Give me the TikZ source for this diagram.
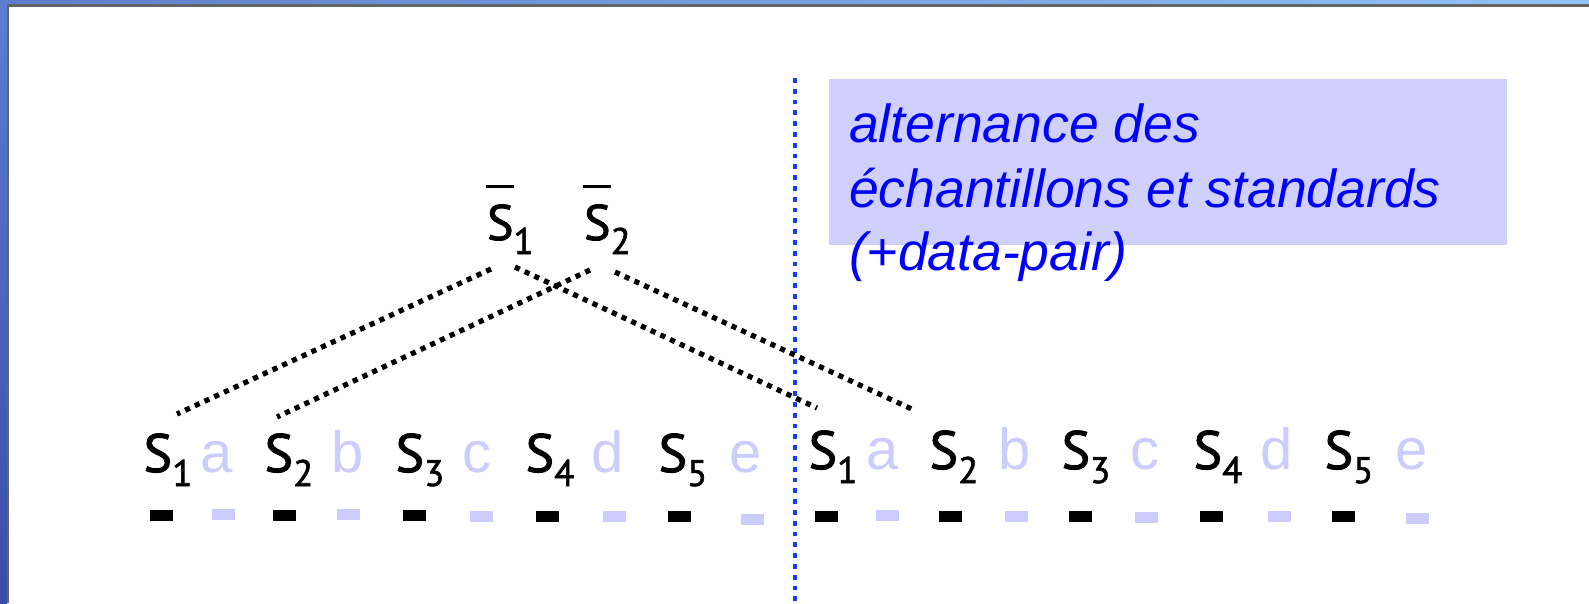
\documentclass[tikz,border=0pt]{standalone}
\usepackage{fontspec}
\setmainfont{Liberation Sans}
\newfontfamily\sfont[FakeBold=1.6]{PT Sans}
\usetikzlibrary{calc}
\definecolor{lav}{RGB}{204,204,255}
\definecolor{boxc}{RGB}{208,208,252}
\definecolor{txtblue}{RGB}{0,0,255}
\definecolor{vblue}{RGB}{16,64,240}
\definecolor{frameA}{RGB}{92,126,204}
\definecolor{frameB}{RGB}{58,76,168}
\definecolor{frameC}{RGB}{146,196,246}
\definecolor{fgray}{RGB}{100,100,100}
\newcommand\Ssub[1]{S\raisebox{-14pt}{\fontsize{37}{37}\selectfont #1}}
\newcommand\Sbar[1]{\makebox[0pt][l]{\hspace{-1pt}\raisebox{52.5pt}{\rule{28pt}{3pt}}}\Ssub{#1}}
\begin{document}
\begin{tikzpicture}[x=1pt,y=-1pt,
  every node/.style={inner sep=0pt, outer sep=0pt},
  stxt/.style={anchor=base west, font=\sfont\fontsize{54}{54}\selectfont},
  ttxt/.style={anchor=base west, font=\sfont\fontsize{50}{50}\selectfont},
  ltxt/.style={anchor=base west, text=lav, font=\fontsize{58}{58}\selectfont},
  btxt/.style={anchor=base west, text=txtblue, font=\itshape\fontsize{53.5}{53.5}\selectfont},
  bdash/.style={fill=black, minimum width=23pt, minimum height=11pt},
  ldash/.style={fill=lav, minimum width=23pt, minimum height=11pt},
  dotline/.style={draw=black, line width=5.2pt, dash pattern=on 5.2pt off 5.5pt},
  vline/.style={draw=vblue, line width=4.6pt, dash pattern=on 4.8pt off 6pt}]
\useasboundingbox (0,0) rectangle (1589,603);
\fill[white] (0,0) rectangle (1589,603);
% frame
\shade[left color=frameA, right color=frameC] (0,0) rectangle (1589,4);
\shade[top color=frameA, bottom color=frameB] (0,0) rectangle (7,603);
\fill[fgray] (7,4) rectangle (1589,7);
\fill[fgray] (7,4) rectangle (9.3,603);
% text box
\node (box) [fill=boxc, anchor=north west, minimum width=678pt, minimum height=166pt] at (829,79) {};
\node (l1) [btxt] at (849,142) {alternance des};
\node (l2) [btxt] at (849,207) {échantillons et standards};
\node (l3) [btxt] at (849,270) {(+data-pair)};
% vertical separator
\draw[vline] (795,78) -- (795,603);
% top means
\node (t1) [ttxt] at (487,240) {\Sbar{1}};
\node (t2) [ttxt] at (584,240) {\Sbar{2}};
% left series
\node (bL1) [stxt] at (143.5,472) {\Ssub{1}};
\node (bL2) [stxt] at (264.5,472) {\Ssub{2}};
\node (bL3) [stxt] at (395.5,472) {\Ssub{3}};
\node (bL4) [stxt] at (525.5,472) {\Ssub{4}};
\node (bL5) [stxt] at (658.5,472) {\Ssub{5}};
\node (aL) [ltxt] at (200.5,472) {a};
\node (bbL) [ltxt] at (331,472) {b};
\node (cL) [ltxt] at (462.5,472) {c};
\node (dL) [ltxt] at (591,472) {d};
\node (eL) [ltxt] at (729.5,472) {e};
% right series
\node (bR1) [stxt] at (808.5,469) {\Ssub{1}};
\node (bR2) [stxt] at (929.5,469) {\Ssub{2}};
\node (bR3) [stxt] at (1061.5,469) {\Ssub{3}};
\node (bR4) [stxt] at (1193.5,469) {\Ssub{4}};
\node (bR5) [stxt] at (1324.5,469) {\Ssub{5}};
\node (aR) [ltxt] at (866.5,469) {a};
\node (bbR) [ltxt] at (998,469) {b};
\node (cR) [ltxt] at (1130.5,469) {c};
\node (dR) [ltxt] at (1260,469) {d};
\node (eR) [ltxt] at (1395.5,469) {e};
% dashes
\node (kL1) [bdash] at (161,515.5) {};
\node (kL2) [bdash] at (284,515.5) {};
\node (kL3) [bdash] at (414,515.5) {};
\node (kL4) [bdash] at (547,516) {};
\node (kL5) [bdash] at (679,516) {};
\node (pL1) [ldash] at (223,514) {};
\node (pL2) [ldash] at (348,514) {};
\node (pL3) [ldash] at (481,516) {};
\node (pL4) [ldash] at (614,516) {};
\node (pL5) [ldash] at (752,519) {};
\node (kR1) [bdash] at (826,516) {};
\node (kR2) [bdash] at (950,516) {};
\node (kR3) [bdash] at (1080,516) {};
\node (kR4) [bdash] at (1211,516.5) {};
\node (kR5) [bdash] at (1343.5,516.5) {};
\node (pR1) [ldash] at (887,515) {};
\node (pR2) [ldash] at (1016,516) {};
\node (pR3) [ldash] at (1146,517) {};
\node (pR4) [ldash] at (1279,516) {};
\node (pR5) [ldash] at (1417,518) {};
% dotted connectors
\draw[dotline] ($(t1.base west)+(4,29)$) -- ($(bL1.base west)+(33.5,-58)$);
\draw[dotline] ($(t2.base west)+(6,30)$) -- ($(bL2.base west)+(12.5,-55)$);
\draw[dotline] ($(t1.base west)+(28,27)$) -- ($(bR1.base west)+(8.5,-61)$);
\draw[dotline] ($(t2.base west)+(31,32)$) -- ($(bR2.base west)+(-13.5,-58)$);
\end{tikzpicture}
\end{document}
